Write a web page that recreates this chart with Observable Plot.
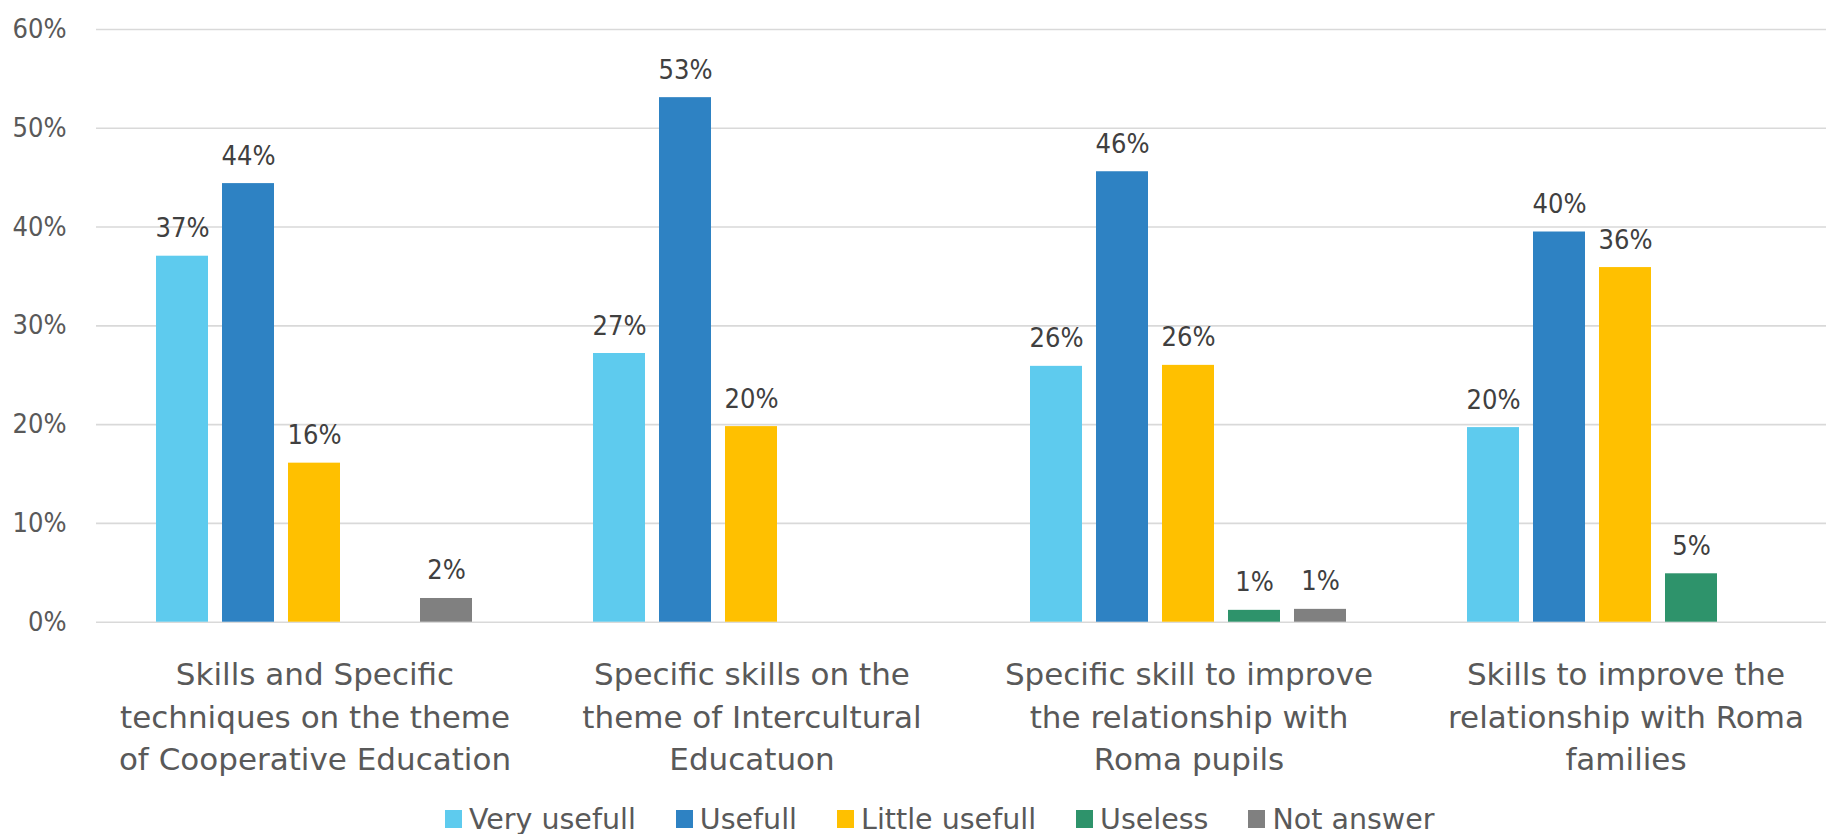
<!DOCTYPE html>
<html>
<head>
<meta charset="utf-8">
<script src="https://cdn.jsdelivr.net/npm/d3@7"></script>
<script src="https://cdn.jsdelivr.net/npm/@observablehq/plot@0.6"></script>
<style>
  html, body { margin: 0; padding: 0; background: #fff; overflow: hidden; width: 1826px; height: 834px; }
  #chart { width: 1826px; height: 790px; overflow: hidden; }
  #chart svg { display: block; max-width: none !important; }
  #legend { height: 44px; padding-top: 14px; box-sizing: border-box; display: flex; align-items: center; padding-left: 445px; }
  #legend .item { display: flex; align-items: center; margin-right: 40px; font-family: "DejaVu Sans", sans-serif; font-size: 28.5px; color: #595959; }
  #legend .sw { width: 17px; height: 18px; margin-right: 7px; }
</style>
</head>
<body>
<div id="chart"></div>
<div id="legend"></div>
<script>
const categories = [
  "Skills and Specific\ntechniques on the theme\nof Cooperative Education",
  "Specific skills on the\ntheme of Intercultural\nEducatuon",
  "Specific skill to improve\nthe relationship with\nRoma pupils",
  "Skills to improve the\nrelationship with Roma\nfamilies"
];
const series = ["Very usefull", "Usefull", "Little usefull", "Useless", "Not answer"];
const colors = ["#5ECBEE", "#2E82C3", "#FFC000", "#2E936B", "#808080"];

const veryUsefull   = [0.3705, 0.272, 0.259, 0.197];
const usefull       = [0.444, 0.531, 0.456, 0.395];
const littleUsefull = [0.161, 0.198, 0.260, 0.359];
const useless       = [null, null, 0.012, 0.049];
const notAnswer     = [0.024, null, 0.013, null];

const yTicks = [0, 0.1, 0.2, 0.3, 0.4, 0.5, 0.6];

const seriesValues = [veryUsefull, usefull, littleUsefull, useless, notAnswer];
const data = [];
categories.forEach((c, i) => {
  series.forEach((s, j) => {
    const v = seriesValues[j][i];
    if (v != null) data.push({category: c, series: s, value: v});
  });
});

const pct = d3.format(".0%");
const numFont = "'DejaVu Sans Condensed', sans-serif";

const chart = Plot.plot({
  width: 1844,
  height: 790,
  marginLeft: 96,
  marginRight: 0,
  marginTop: 29,
  marginBottom: 168.3,
  style: {fontFamily: "'DejaVu Sans', sans-serif", background: "#fff", maxWidth: "none"},
  fx: {domain: categories, paddingInner: 0, paddingOuter: 0, label: null},
  x: {domain: series, paddingInner: 0.208, paddingOuter: 0.873, axis: null},
  y: {domain: [0, 0.6], label: null, axis: null},
  color: {domain: series, range: colors},
  marks: [
    Plot.gridY(yTicks, {stroke: "#d9d9d9", strokeOpacity: 1, strokeWidth: 1.6}),
    Plot.axisY(yTicks, {tickFormat: pct, tickSize: 0, tickPadding: 30, fontSize: 27, fill: "#595959", fontFamily: numFont, label: null}),
    Plot.barY(data, {fx: "category", x: "series", y: "value", fill: "series"}),
    Plot.text(data, {fx: "category", x: "series", y: "value", text: d => pct(d.value), lineAnchor: "bottom", dy: -19, fontSize: 27, fill: "#404040", fontFamily: numFont}),
    Plot.axisFx({anchor: "bottom", tickSize: 0, tickPadding: 33, fontSize: 31, lineHeight: 1.37, fill: "#595959", label: null})
  ]
});
document.getElementById("chart").appendChild(chart);

const legend = document.getElementById("legend");
series.forEach((s, i) => {
  const item = document.createElement("div");
  item.className = "item";
  const sw = document.createElement("div");
  sw.className = "sw";
  sw.style.background = colors[i];
  const t = document.createElement("span");
  t.textContent = s;
  item.appendChild(sw);
  item.appendChild(t);
  legend.appendChild(item);
});
</script>
</body>
</html>
